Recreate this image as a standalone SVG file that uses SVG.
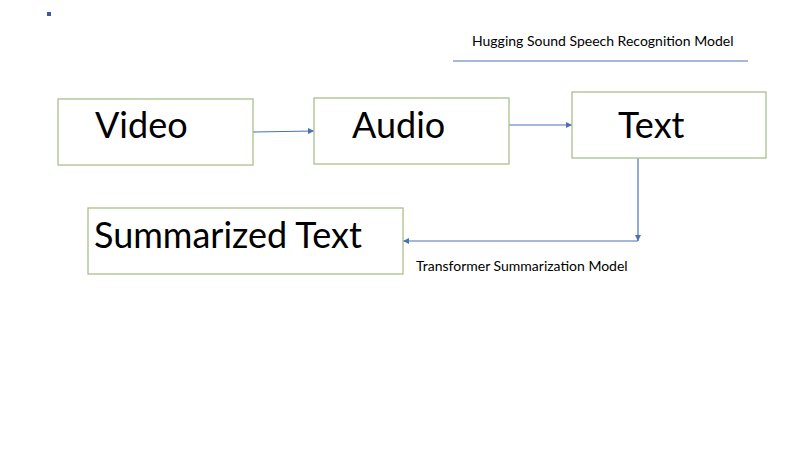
<svg xmlns="http://www.w3.org/2000/svg" width="806" height="453" viewBox="0 0 806 453">
<style>
.box{fill:#fff;stroke:#a9c08e;stroke-width:1.3}
.big{font-family:Lato,"Liberation Sans",sans-serif;font-size:36px;fill:#000}
.lbl{font-family:Lato,"Liberation Sans",sans-serif;font-size:14px;fill:#000}
.con{stroke:#4a72b0;stroke-width:1.2;fill:none}
</style>
<defs><marker id="ar" viewBox="0 0 10 10" refX="10" refY="5" markerWidth="5" markerHeight="5" orient="auto"><path d="M0,0L10,5L0,10z" fill="#4a72b0"/></marker></defs>
<rect width="806" height="453" fill="#fff"/>
<rect x="47" y="12" width="4" height="4" fill="#3f5a9a"/>
<g id="connectors">
<line class="con" x1="253" y1="132" x2="314" y2="131" marker-end="url(#ar)"/>
<line class="con" x1="509" y1="125" x2="572" y2="125" marker-end="url(#ar)"/>
<line class="con" x1="638" y1="158" x2="638" y2="241" marker-end="url(#ar)"/>
<line class="con" x1="638" y1="241" x2="403" y2="241" marker-end="url(#ar)"/>
<line stroke="#4a72b0" stroke-width="1" x1="453" y1="61" x2="748" y2="61"/>
</g>
<g id="video"><rect class="box" x="58" y="99" width="195" height="66"/><text class="big" x="95" y="138">Video</text></g>
<g id="audio"><rect class="box" x="314" y="98" width="195" height="66"/><text class="big" x="352" y="138">Audio</text></g>
<g id="text"><rect class="box" x="572" y="92" width="194" height="66"/><text class="big" x="618" y="138">Text</text></g>
<g id="summarized"><rect class="box" x="88" y="208" width="315" height="66"/><text class="big" x="94" y="248">Summarized Text</text></g>
<text class="lbl" x="472" y="46">Hugging Sound Speech Recognition Model</text>
<text class="lbl" x="416" y="271">Transformer Summarization Model</text>
</svg>
